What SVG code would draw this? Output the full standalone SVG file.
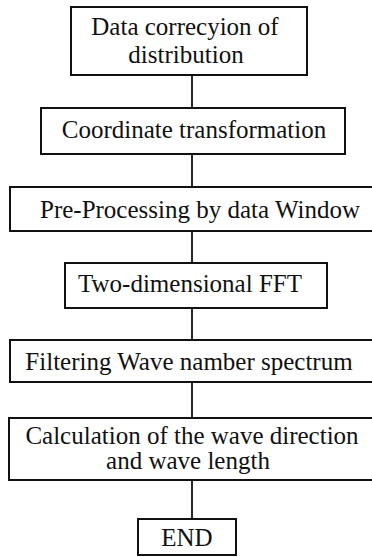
<svg xmlns="http://www.w3.org/2000/svg" width="372" height="557" viewBox="0 0 372 557">
<style>
.box{fill:#fff;stroke:#111;stroke-width:2}
.t{font-family:"Liberation Serif","Times New Roman",serif;font-size:25px;fill:#111;text-anchor:middle}
.c{stroke:#111;stroke-width:1.8;fill:none}
</style>
<rect width="372" height="557" fill="#fff"/>
<g id="connectors">
<line class="c" x1="192" y1="75" x2="192" y2="108"/>
<line class="c" x1="192" y1="154" x2="192" y2="187"/>
<line class="c" x1="192" y1="231" x2="192" y2="263"/>
<line class="c" x1="192" y1="308" x2="192" y2="340"/>
<line class="c" x1="192" y1="382" x2="192" y2="418"/>
<line class="c" x1="192" y1="480" x2="192" y2="519"/>
</g>
<g id="n1">
<rect class="box" x="71" y="7" width="236" height="68"/>
<text class="t" x="185" y="35">Data correcyion of</text>
<text class="t" x="186" y="63">distribution</text>
</g>
<g id="n2">
<rect class="box" x="41" y="108" width="304" height="46"/>
<text class="t" x="194" y="138">Coordinate transformation</text>
</g>
<g id="n3">
<rect class="box" x="10" y="187" width="366" height="44"/>
<text class="t" x="200" y="218">Pre-Processing by data Window</text>
</g>
<g id="n4">
<rect class="box" x="65" y="263" width="262" height="45"/>
<text class="t" x="190" y="292">Two-dimensional FFT</text>
</g>
<g id="n5">
<rect class="box" x="10" y="340" width="366" height="42"/>
<text class="t" x="189" y="370">Filtering Wave namber spectrum</text>
</g>
<g id="n6">
<rect class="box" x="9" y="418" width="367" height="62"/>
<text class="t" x="192" y="444">Calculation of the wave direction</text>
<text class="t" x="188" y="469">and wave length</text>
</g>
<g id="n7">
<rect class="box" x="138" y="519" width="98" height="36"/>
<text class="t" x="187" y="546">END</text>
</g>
</svg>
